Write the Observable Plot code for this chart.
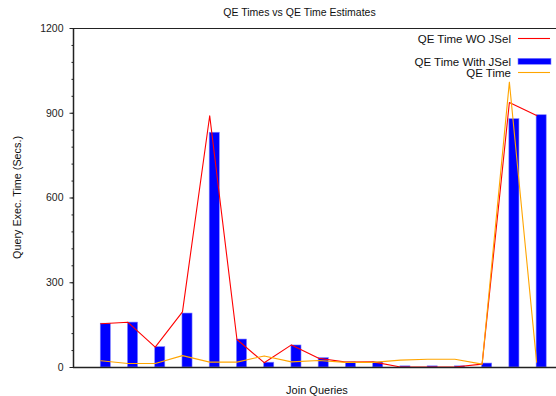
<!DOCTYPE html>
<html>
<head>
<meta charset="utf-8">
<script src="https://cdn.jsdelivr.net/npm/d3@7"></script>
<script src="https://cdn.jsdelivr.net/npm/@observablehq/plot@0.6"></script>
<style>
  html, body { margin: 0; padding: 0; background: #fff; overflow: hidden; }
  #chart svg { display: block; font-family: "Liberation Sans", Arial, sans-serif; }
</style>
</head>
<body>
<div id="chart"></div>
<script>
// ---- data ----
const queries = [1, 2, 3, 4, 5, 6, 7, 8, 9, 10, 11, 12, 13, 14, 15, 16, 17];
const qeWithJSel = [155, 159, 72, 191, 831, 99, 17, 78, 33, 18, 18, 4, 4, 4, 14, 879, 893];
const qeWOJSel   = [155, 160, 72, 197, 891, 99, 17, 80, 33, 19, 20, 2, 2, 2, 12, 938, 892];
const qeTime     = [24, 14, 14, 42, 19, 19, 41, 20, 25, 18, 18, 26, 29, 29, 12, 1010, 19];
const yTicks = [0, 300, 600, 900, 1200];
const yMinorTicks = [0, 60, 120, 180, 240, 300, 360, 420, 480, 540, 600, 660, 720, 780, 840, 900, 960, 1020, 1080, 1140, 1200];
const seriesNames = ["QE Time WO JSel", "QE Time With JSel", "QE Time"];
const seriesColors = ["#ff0000", "#0000ff", "#ffa500"];
const title = "QE Times vs QE Time Estimates";
const xLabel = "Join Queries";
const yLabel = "Query Exec. Time (Secs.)";

const barWidth = 0.37;
const rows = queries.map((q, i) => ({q, withJ: qeWithJSel[i], wo: qeWOJSel[i], qe: qeTime[i]}));

const W = 556, H = 396;
const mL = 73, mT = 28, mB = 29, mR = 0;

const plot = Plot.plot({
  width: W,
  height: H,
  marginLeft: mL,
  marginTop: mT,
  marginBottom: mB,
  marginRight: mR,
  style: {fontFamily: '"Liberation Sans", Arial, sans-serif', fontSize: "10.5px", color: "#111", background: "#fff"},
  x: {domain: [0, 17.73], axis: null},
  y: {domain: [0, 1200], axis: null},
  marks: [
    Plot.rectY(rows, {x1: "q", x2: d => d.q + barWidth, y: "withJ", fill: seriesColors[1], stroke: "#7f7fff", strokeWidth: 0.6}),
    Plot.lineY(rows, {x: "q", y: "wo", stroke: seriesColors[0], strokeWidth: 1.1}),
    Plot.lineY(rows, {x: "q", y: "qe", stroke: seriesColors[2], strokeWidth: 1.1}),
    Plot.axisY({ticks: yMinorTicks, tickSize: 1.5, text: null, stroke: "#222"}),
    Plot.axisY({ticks: yTicks, tickSize: 3.5, tickPadding: 6.5, tickFormat: d => String(d), label: null, stroke: "#222", fill: "#222"}),
    Plot.ruleX([0], {stroke: "#222", strokeWidth: 1.5}),
    Plot.ruleY([0], {stroke: "#222", strokeWidth: 1.5}),
    Plot.ruleY([1200], {stroke: "#222", strokeWidth: 1})
  ]
});

document.getElementById("chart").appendChild(plot);

const svg = d3.select(plot);
const font = '"Liberation Sans", Arial, sans-serif';

svg.append("text").attr("x", 299.5).attr("y", 16).attr("text-anchor", "middle")
  .attr("font-size", "10.5px").attr("font-family", font).attr("fill", "#111").text(title);
svg.append("text").attr("x", 317).attr("y", 394).attr("text-anchor", "middle")
  .attr("font-size", "11px").attr("font-family", font).attr("fill", "#111").text(xLabel);
svg.append("text").attr("transform", "translate(20.5,197.5) rotate(-90)").attr("text-anchor", "middle")
  .attr("font-size", "10.8px").attr("font-family", font).attr("fill", "#111").text(yLabel);

// legend
const leg = svg.append("g").attr("font-family", font).attr("font-size", "11.5px").attr("fill", "#111");
const legY = [38.5, 61.5, 72.5];
seriesNames.forEach((name, i) => {
  leg.append("text").attr("x", 511).attr("y", legY[i]).attr("dy", "0.35em").attr("text-anchor", "end").text(name);
  if (i === 1) {
    leg.append("rect").attr("x", 518).attr("y", legY[i] - 3.2).attr("width", 33).attr("height", 6)
      .attr("fill", seriesColors[i]).attr("stroke", "#7f7fff").attr("stroke-width", 0.6);
  } else {
    leg.append("line").attr("x1", 518).attr("x2", 550).attr("y1", legY[i]).attr("y2", legY[i])
      .attr("stroke", seriesColors[i]).attr("stroke-width", 1.1);
  }
});
</script>
</body>
</html>
